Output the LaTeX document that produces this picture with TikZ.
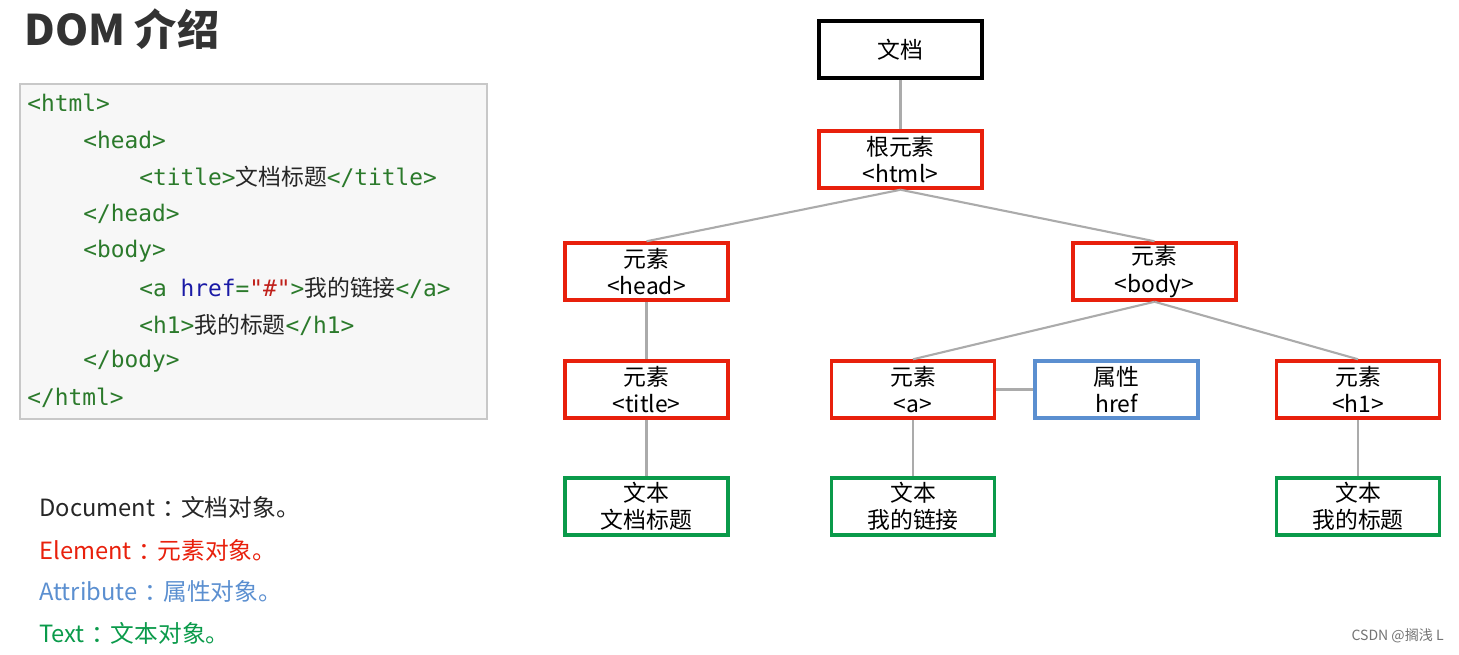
\documentclass[tikz,border=0pt]{standalone}
\usepackage{fontspec}
\setmainfont{Noto Sans CJK SC}
\newfontfamily\codefont{DejaVu Sans Mono}
\newfontfamily\cjk{Noto Sans CJK SC}
\usetikzlibrary{positioning}
\definecolor{elemred}{HTML}{E8200C}
\definecolor{attrblue}{HTML}{5B8FD0}
\definecolor{textgreen}{HTML}{0A9A4A}
\definecolor{linkgray}{HTML}{ABABAB}
\definecolor{panelgray}{HTML}{F7F7F7}
\definecolor{panelline}{HTML}{C8C8C8}
\definecolor{tagc}{HTML}{2B7A2B}
\definecolor{hrefc}{HTML}{1A1AA6}
\definecolor{strc}{HTML}{C0201A}
\definecolor{titlec}{HTML}{333333}
\newcommand\tg[1]{\textcolor{tagc}{#1}}
\newcommand\zh[1]{{\cjk\color{black!85}#1}}
\newcommand\lgsep{\hspace{0.3em}：\hspace{-0.2em}}

\begin{document}
\begin{tikzpicture}[x=0.02cm, y=-0.02cm,
    every node/.style={font=\fontsize{13}{15.5}\selectfont},
    domnode/.style={rectangle, draw, line width=2pt, minimum width=3.26cm, minimum height=1.14cm, align=center, inner sep=0pt},
    docnode/.style={domnode, draw=black},
    elemnode/.style={domnode, draw=elemred},
    attrnode/.style={domnode, draw=attrblue},
    textnode/.style={domnode, draw=textgreen},
    link/.style={draw=linkgray, line width=1.2pt},
    codeline/.style={anchor=west, inner sep=0pt, font=\codefont\fontsize{13}{15}\selectfont},
    legend/.style={anchor=west, inner sep=0pt, font=\fontsize{13.5}{16}\selectfont}]
  \useasboundingbox (0,0) rectangle (1459,654);

  % title
  \node[anchor=west, inner sep=0pt, text=titlec, font=\bfseries\fontsize{24}{28}\selectfont] (heading) at (24,29) {DOM 介绍};

  % code panel
  \node[rectangle, draw=panelline, fill=panelgray, line width=1pt, minimum width=9.34cm, minimum height=6.7cm] (panel) at (253.5,251.5) {};
  \node[codeline] (c1) at (27,103) {\tg{<html>}};
  \node[codeline] (c2) at (83,140) {\tg{<head>}};
  \node[codeline] (c3) at (139,177) {\tg{<title>}\zh{文档标题}\tg{</title>}};
  \node[codeline] (c4) at (83,214) {\tg{</head>}};
  \node[codeline] (c5) at (83,251) {\tg{<body>}};
  \node[codeline] (c6) at (139,288) {\tg{<a }\textcolor{hrefc}{href}\tg{=}\textcolor{strc}{"\#"}\tg{>}\zh{我的链接}\tg{</a>}};
  \node[codeline] (c7) at (139,325) {\tg{<h1>}\zh{我的标题}\tg{</h1>}};
  \node[codeline] (c8) at (83,361) {\tg{</body>}};
  \node[codeline] (c9) at (27,398) {\tg{</html>}};

  % legend
  \node[legend, text=black!85] (lgdoc) at (39,507) {Document\lgsep 文档对象。};
  \node[legend, text=elemred] (lgelem) at (39,550) {Element\lgsep 元素对象。};
  \node[legend, text=attrblue] (lgattr) at (39,591) {Attribute\lgsep 属性对象。};
  \node[legend, text=textgreen] (lgtext) at (39,633) {Text\lgsep 文本对象。};

  % DOM tree
  \node[docnode] (doc) at (900.5,49.5) {文档};
  \node[elemnode] (html) at (900.5,159.5) {根元素\\<html>};
  \node[elemnode] (head) at (646.5,271.5) {元素\\<head>};
  \node[elemnode] (body) at (1154.5,271.5) {元素\\<body>};
  \node[elemnode] (title) at (646.5,389.5) {元素\\<title>};
  \node[elemnode] (a) at (913,389.5) {元素\\<a>};
  \node[attrnode] (href) at (1116.5,389.5) {属性\\href};
  \node[elemnode] (h1) at (1358,389.5) {元素\\<h1>};
  \node[textnode] (ttitle) at (646.5,506.5) {文本\\文档标题};
  \node[textnode] (ta) at (913,506.5) {文本\\我的链接};
  \node[textnode] (th1) at (1358,506.5) {文本\\我的标题};

  \draw[link] (doc) -- (html);
  \draw[link] (html.south) -- (head.north);
  \draw[link] (html.south) -- (body.north);
  \draw[link] (head) -- (title);
  \draw[link] (body.south) -- (a.north);
  \draw[link] (body.south) -- (h1.north);
  \draw[link] (a) -- (href);
  \draw[link] (title) -- (ttitle);
  \draw[link] (a) -- (ta);
  \draw[link] (h1) -- (th1);

  % watermark
  \node[anchor=east, inner sep=0pt, text=black!55, font=\fontsize{8}{10}\selectfont] (mark) at (1444,636) {CSDN @搁浅 L};
\end{tikzpicture}
\end{document}
